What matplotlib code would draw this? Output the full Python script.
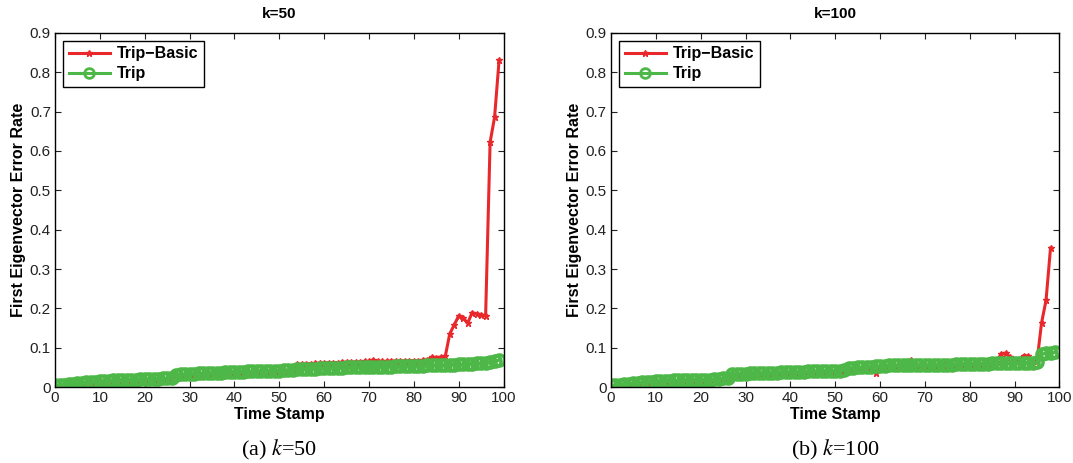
import numpy as np
import matplotlib
matplotlib.use("Agg")
import matplotlib.pyplot as plt

plt.rcParams['font.family'] = ['Liberation Sans', 'DejaVu Sans']
plt.rcParams['mathtext.fontset'] = 'stix'

# time stamps 0..99
time_stamp = list(range(100))

# k=50
trip_50 = [0.004, 0.005, 0.006, 0.007, 0.008, 0.010, 0.011, 0.012, 0.013, 0.014,
           0.015, 0.016, 0.016, 0.017, 0.017, 0.018, 0.018, 0.019, 0.019, 0.020,
           0.020, 0.020, 0.021, 0.021, 0.022, 0.022, 0.023, 0.031, 0.032, 0.033,
           0.034, 0.034, 0.035, 0.035, 0.036, 0.036, 0.037, 0.037, 0.038, 0.038,
           0.039, 0.039, 0.039, 0.040, 0.040, 0.040, 0.041, 0.041, 0.041, 0.042,
           0.042, 0.043, 0.043, 0.044, 0.046, 0.046, 0.047, 0.047, 0.047, 0.048,
           0.048, 0.048, 0.049, 0.049, 0.049, 0.050, 0.050, 0.050, 0.050, 0.051,
           0.051, 0.051, 0.052, 0.052, 0.052, 0.052, 0.053, 0.053, 0.053, 0.053,
           0.054, 0.054, 0.054, 0.055, 0.055, 0.055, 0.056, 0.056, 0.057, 0.057,
           0.058, 0.058, 0.059, 0.059, 0.060, 0.061, 0.062, 0.064, 0.066, 0.068]
basic_50 = [0.003, 0.004, 0.005, 0.006, 0.007, 0.009, 0.010, 0.011, 0.012, 0.013,
            0.014, 0.015, 0.015, 0.016, 0.016, 0.017, 0.017, 0.018, 0.018, 0.019,
            0.019, 0.019, 0.020, 0.020, 0.021, 0.021, 0.022, 0.030, 0.031, 0.032,
            0.033, 0.033, 0.034, 0.034, 0.035, 0.035, 0.036, 0.036, 0.037, 0.037,
            0.038, 0.038, 0.038, 0.039, 0.039, 0.039, 0.040, 0.040, 0.040, 0.041,
            0.041, 0.042, 0.042, 0.046, 0.058, 0.058, 0.059, 0.059, 0.060, 0.061,
            0.061, 0.062, 0.062, 0.062, 0.063, 0.063, 0.063, 0.064, 0.064, 0.065,
            0.065, 0.069, 0.065, 0.065, 0.065, 0.066, 0.066, 0.066, 0.067, 0.067,
            0.067, 0.067, 0.068, 0.069, 0.076, 0.075, 0.076, 0.078, 0.135, 0.158,
            0.181, 0.175, 0.163, 0.189, 0.186, 0.184, 0.181, 0.622, 0.686, 0.830]

# k=100
trip_100 = [0.004, 0.005, 0.006, 0.007, 0.008, 0.010, 0.011, 0.012, 0.013, 0.014,
            0.015, 0.016, 0.016, 0.016, 0.017, 0.017, 0.017, 0.018, 0.018, 0.018,
            0.018, 0.019, 0.019, 0.020, 0.021, 0.022, 0.023, 0.033, 0.034, 0.034,
            0.034, 0.035, 0.035, 0.036, 0.036, 0.036, 0.037, 0.037, 0.038, 0.038,
            0.038, 0.039, 0.039, 0.039, 0.040, 0.040, 0.040, 0.041, 0.041, 0.041,
            0.041, 0.042, 0.044, 0.048, 0.049, 0.050, 0.050, 0.051, 0.052, 0.054,
            0.054, 0.054, 0.055, 0.055, 0.055, 0.055, 0.056, 0.056, 0.056, 0.056,
            0.056, 0.056, 0.057, 0.057, 0.057, 0.057, 0.057, 0.058, 0.058, 0.058,
            0.058, 0.059, 0.059, 0.059, 0.059, 0.060, 0.060, 0.060, 0.060, 0.061,
            0.061, 0.061, 0.062, 0.062, 0.062, 0.063, 0.084, 0.086, 0.087, 0.088]
basic_100 = [0.003, 0.004, 0.005, 0.006, 0.007, 0.009, 0.010, 0.011, 0.012, 0.013,
             0.014, 0.015, 0.015, 0.015, 0.016, 0.016, 0.016, 0.017, 0.017, 0.017,
             0.017, 0.018, 0.018, 0.019, 0.020, 0.021, 0.022, 0.031, 0.032, 0.032,
             0.032, 0.033, 0.033, 0.034, 0.034, 0.034, 0.035, 0.035, 0.036, 0.036,
             0.036, 0.037, 0.037, 0.037, 0.038, 0.038, 0.038, 0.039, 0.039, 0.039,
             0.039, 0.040, 0.042, 0.046, 0.047, 0.048, 0.048, 0.049, 0.050, 0.036,
             0.052, 0.052, 0.053, 0.053, 0.053, 0.054, 0.054, 0.070, 0.054, 0.055,
             0.055, 0.055, 0.056, 0.056, 0.064, 0.056, 0.056, 0.057, 0.057, 0.058,
             0.058, 0.058, 0.059, 0.059, 0.060, 0.060, 0.064, 0.085, 0.086, 0.076,
             0.068, 0.070, 0.080, 0.079, 0.065, 0.066, 0.163, 0.220, 0.353]

red = '#e8282a'
green = '#4db848'

fig = plt.figure(figsize=(10.73, 4.63), dpi=100)
ax1 = fig.add_axes([0.0513, 0.164, 0.418, 0.765])
ax2 = fig.add_axes([0.5694, 0.164, 0.418, 0.765])

panels = [(ax1, basic_50, trip_50, 'k=50', '(a) $k$=50'),
          (ax2, basic_100, trip_100, 'k=100', '(b) $k$=100')]

for ax, basic, trip, title, caption in panels:
    ax.plot(time_stamp[:len(basic)], basic, color=red, lw=2.2, marker='*', ms=4.5,
            label='Trip\u2212Basic')
    ax.plot(time_stamp[:len(trip)], trip, color=green, lw=2.2, marker='o', ms=8,
            mfc='none', mew=2.5, label='Trip')
    ax.set_xlim(0, 100)
    ax.set_ylim(0, 0.9)
    ax.set_xticks(np.arange(0, 101, 10))
    ax.set_yticks(np.arange(0, 0.91, 0.1))
    ax.set_yticklabels(['0'] + ['%.1f' % v for v in np.arange(0.1, 0.91, 0.1)])
    ax.tick_params(direction='in', top=True, right=True, labelsize=11,
                   length=4, pad=3, colors='#222222')
    for sp in ax.spines.values():
        sp.set_linewidth(1.0)
    ax.set_xlabel('Time Stamp', fontweight='bold', fontsize=11.5, labelpad=1)
    ax.set_ylabel('First Eigenvector Error Rate', fontweight='bold', fontsize=11.5,
                  labelpad=3)
    ax.set_title(title, fontweight='bold', fontsize=11, pad=11)
    leg = ax.legend(loc='upper left', prop={'weight': 'bold', 'size': 11.5},
                    fancybox=False, edgecolor='black', framealpha=1,
                    borderaxespad=0.5, handlelength=2.6, borderpad=0.35,
                    labelspacing=0.3, handletextpad=0.4)
    leg.get_frame().set_linewidth(1.0)
    leg.legend_handles[1].set_markersize(7)
    leg.legend_handles[1].set_markeredgewidth(2)
    ax.text(0.5, -0.145, caption, transform=ax.transAxes, ha='center', va='top',
            fontsize=16, family='Liberation Serif')

fig.savefig('out.png', dpi=100)
